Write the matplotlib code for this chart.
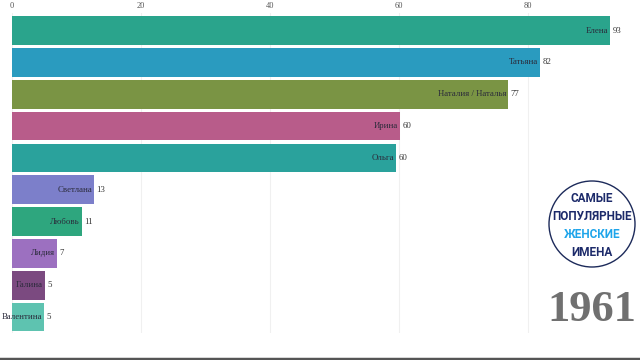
import matplotlib.pyplot as plt
from matplotlib.patches import Circle

names = ["Елена", "Татьяна", "Наталия / Наталья", "Ирина", "Ольга",
         "Светлана", "Любовь", "Лидия", "Галина", "Валентина"]
values = [92.7, 81.9, 76.9, 60.2, 59.5, 12.7, 10.8, 7.0, 5.1, 5.0]
colors = ["#2aa48c", "#2a9bbf", "#7a9444", "#b85c8a", "#2aa29c",
          "#7c7fca", "#2ea67e", "#9c70c0", "#7b4a80", "#5ec3b0"]
year = "1961"
ticks = [0, 20, 40, 60, 80]

fig = plt.figure(figsize=(6.4, 3.6), dpi=100)
ax = fig.add_axes([12 / 640, 1 - 333 / 360, 628 / 640, 320 / 360])

pos = list(range(len(names)))
ax.barh(pos, values, height=0.9, color=colors)
ax.set_ylim(len(names) - 0.5, -0.55)
ax.set_xlim(0, 628 / 6.45)

for i, (n, v) in enumerate(zip(names, values)):
    ax.text(v - 0.3, i, n, ha="right", va="center", fontsize=6.3,
            family="Liberation Serif", color="#2a2a3a")
    ax.text(v + 0.4, i, f"{v:.0f}", ha="left", va="center", fontsize=6.3,
            family="Liberation Serif", color="#333333")

ax.xaxis.tick_top()
ax.set_xticks(ticks)
ax.set_xticklabels([str(t) for t in ticks], family="Liberation Serif",
                   fontsize=6, color="#555555")
ax.tick_params(axis="x", length=0, pad=2)
ax.set_yticks([])
ax.grid(axis="x", color="#f0f0f0", linewidth=0.8)
ax.set_axisbelow(True)
for s in ax.spines.values():
    s.set_visible(False)

# logo
logo = fig.add_axes([0, 0, 1, 1], facecolor="none")
logo.set_xlim(0, 640)
logo.set_ylim(360, 0)
logo.axis("off")
logo.add_patch(Circle((592, 224), 43, facecolor="white", edgecolor="#1c2a5a", linewidth=1))
lines = [("САМЫЕ", "#1c2a6a"), ("ПОПУЛЯРНЫЕ", "#1c2a6a"),
         ("ЖЕНСКИЕ", "#1fa5ea"), ("ИМЕНА", "#1c2a6a")]
for k, (t, c) in enumerate(lines):
    logo.text(592, 198 + k * 18, t, ha="center", va="center", fontsize=8.5,
              fontweight="bold", family="Roboto", color=c)
logo.text(592, 310, year, ha="center", va="center", fontsize=32,
          fontweight="bold", family="Liberation Serif", color="#707070")
logo.plot([0, 640], [358.5, 358.5], color="#555555", linewidth=2.5)

fig.savefig("out.png", dpi=100)
